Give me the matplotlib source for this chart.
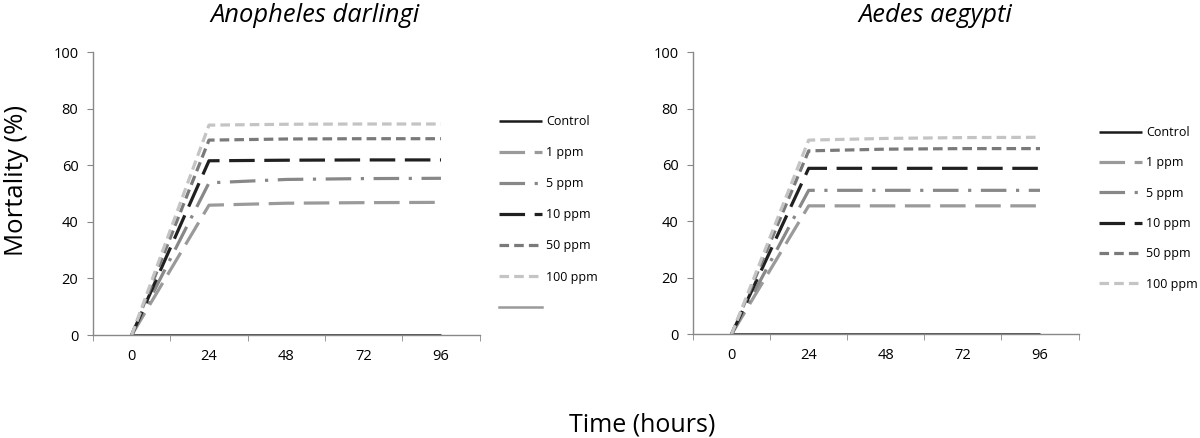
import matplotlib
matplotlib.use("Agg")
import matplotlib.pyplot as plt
from matplotlib.lines import Line2D

plt.rcParams['font.family'] = ['Open Sans', 'DejaVu Sans']

times = [0, 24, 48, 72, 96]
series_labels = ["Control", "1 ppm", "5 ppm", "10 ppm", "50 ppm", "100 ppm"]

anopheles = {
    "Control": [0, 0, 0, 0, 0],
    "1 ppm":   [0, 45.9, 46.6, 46.8, 46.9],
    "5 ppm":   [0, 53.8, 55.0, 55.3, 55.4],
    "10 ppm":  [0, 61.6, 61.8, 61.9, 61.9],
    "50 ppm":  [0, 68.9, 69.3, 69.4, 69.4],
    "100 ppm": [0, 74.2, 74.5, 74.6, 74.6],
}
aedes = {
    "Control": [0, 0, 0, 0, 0],
    "1 ppm":   [0, 45.5, 45.5, 45.5, 45.5],
    "5 ppm":   [0, 51.0, 51.0, 51.0, 51.0],
    "10 ppm":  [0, 58.8, 58.8, 58.8, 58.8],
    "50 ppm":  [0, 65.0, 65.6, 65.8, 65.8],
    "100 ppm": [0, 68.8, 69.4, 69.7, 69.8],
}
titles = ["Anopheles darlingi", "Aedes aegypti"]
y_ticks = [0, 20, 40, 60, 80, 100]

styles = {
    "Control": dict(color="#1a1a1a", lw=1.8, ls="-"),
    "1 ppm":   dict(color="#9a9a9a", lw=2.3, ls=(0, (8, 3))),
    "5 ppm":   dict(color="#888888", lw=2.3, ls=(0, (8, 3, 1, 3))),
    "10 ppm":  dict(color="#202020", lw=2.3, ls=(0, (8, 3))),
    "50 ppm":  dict(color="#7a7a7a", lw=2.3, ls=(0, (3, 1.6))),
    "100 ppm": dict(color="#c4c4c4", lw=2.3, ls=(0, (3, 1.6))),
}

fig = plt.figure(figsize=(12, 4.38), dpi=100)
axes_pos = [[0.0775, 0.235, 0.3222, 0.646], [0.5775, 0.237, 0.3213, 0.644]]
legend_pos = [(0.4117, 0.749), (0.9117, 0.724)]
legend_spacing = [1.45, 1.39]
title_x = [210 / 1200, 858 / 1200]
datasets = [anopheles, aedes]

for i, (data, title) in enumerate(zip(datasets, titles)):
    ax = fig.add_axes(axes_pos[i])
    for lab in series_labels:
        st = styles[lab]
        ax.plot(times, data[lab], color=st["color"], lw=st["lw"], ls=st["ls"],
                label=lab, solid_capstyle="butt", dash_capstyle="butt")
    ax.set_xlim(-12, 108)
    ax.set_ylim(0, 100)
    ax.set_yticks(y_ticks)
    ax.set_xticks(times)
    ax.set_xticks([-12, 12, 36, 60, 84, 108], minor=True)
    ax.tick_params(axis='x', which='major', length=0, pad=10, labelsize=10.5)
    ax.tick_params(axis='x', which='minor', length=4, color="#888888", direction='out')
    ax.tick_params(axis='y', length=4, color="#888888", labelsize=10.5, pad=6.5)
    for s in ["top", "right"]:
        ax.spines[s].set_visible(False)
    for s in ["left", "bottom"]:
        ax.spines[s].set_color("#888888")
        ax.spines[s].set_linewidth(1.0)
    fig.text(title_x[i], 1 - 22 / 438, title, fontsize=18.4, style='italic',
             ha='left', va='baseline')
    handles, labels = ax.get_legend_handles_labels()
    if i == 0:
        handles.append(Line2D([], [], color="#9a9a9a", lw=1.8, ls="-"))
        labels.append(" ")
    fig.legend(handles, labels, loc='upper left', bbox_to_anchor=legend_pos[i],
               frameon=False, fontsize=9, handlelength=3.45,
               labelspacing=legend_spacing[i], handletextpad=0.32, borderaxespad=0)

fig.text(17 / 1200, 1 - 180 / 438, "Mortality (%)", rotation=90, fontsize=18.5,
         ha='center', va='center')
fig.text(642 / 1200, 1 - 431 / 438, "Time (hours)", fontsize=18, ha='center',
         va='baseline')

fig.savefig("out.png", dpi=100)
